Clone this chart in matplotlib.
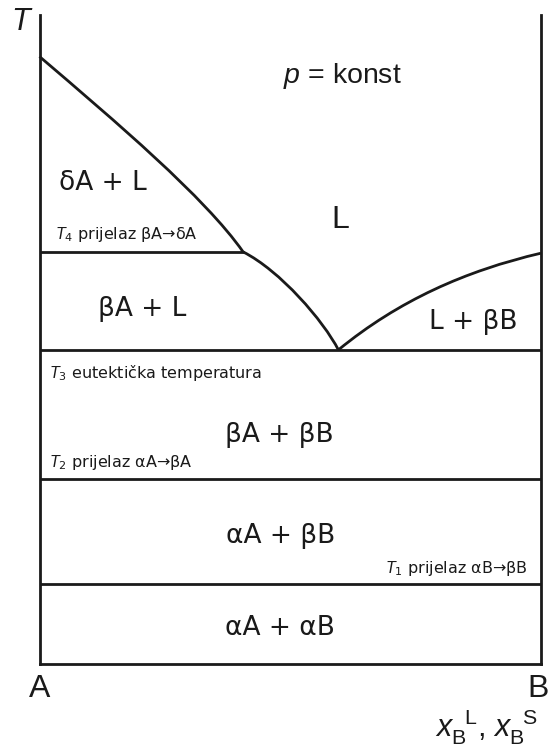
import matplotlib
matplotlib.use('Agg')
import matplotlib.pyplot as plt
from matplotlib.path import Path
from matplotlib.patches import PathPatch

plt.rcParams['font.family'] = ['Liberation Sans', 'DejaVu Sans']
plt.rcParams['mathtext.fontset'] = 'custom'
plt.rcParams['mathtext.rm'] = 'Liberation Sans'
plt.rcParams['mathtext.it'] = 'Liberation Sans:italic'

# composition x_B (0 = A, 1 = B) and temperature (arbitrary units, 0..100)
# liquidus curves as cubic bezier: start, 2 control points, end
liq_delta_x = [0.0, 0.15, 0.33, 0.406]
liq_delta_T = [93.6, 83.7, 71.9, 63.5]

liq_betaA_x = [0.406, 0.48, 0.566, 0.596]
liq_betaA_T = [63.5, 60.6, 52.9, 48.4]

liq_betaB_x = [0.596, 0.716, 0.85, 1.0]
liq_betaB_T = [48.4, 56.0, 60.6, 63.3]

T4 = 63.5
T3 = 48.4
T2 = 28.5
T1 = 12.3
x_T4_end = 0.406

col = '#1a1a1a'
lw = 2.0

fig = plt.figure(figsize=(5.5, 7.47), dpi=100)
ax = fig.add_axes([39.5 / 550, 83 / 747, 501.5 / 550, 649 / 747])
ax.set_xlim(0, 1)
ax.set_ylim(0, 100)
ax.set_xticks([])
ax.set_yticks([])
ax.spines['top'].set_visible(False)
for s in ['left', 'right', 'bottom']:
    ax.spines[s].set_linewidth(lw)
    ax.spines[s].set_color(col)

codes = [Path.MOVETO, Path.CURVE4, Path.CURVE4, Path.CURVE4]
for xs, ts in [(liq_delta_x, liq_delta_T), (liq_betaA_x, liq_betaA_T), (liq_betaB_x, liq_betaB_T)]:
    p = Path(list(zip(xs, ts)), codes)
    ax.add_patch(PathPatch(p, facecolor='none', edgecolor=col, lw=lw, clip_on=False))

ax.plot([0, x_T4_end], [T4, T4], color=col, lw=lw)
ax.plot([0, 1], [T3, T3], color=col, lw=lw)
ax.plot([0, 1], [T2, T2], color=col, lw=lw)
ax.plot([0, 1], [T1, T1], color=col, lw=lw)

big = 19
small = 11.5
wide = ['DejaVu Sans']

ax.text(-0.037, 98.9, 'T', fontsize=22, style='italic', ha='center', va='center', color=col, clip_on=False)
ax.text(0.486, 89.5, '$p$ = konst', fontsize=20.5, ha='left', va='baseline', color=col)
ax.text(0.599, 67.2, 'L', fontsize=23, ha='center', va='baseline', color=col)

ax.text(0.126, 73.0, 'δA + L', fontsize=big, family=wide, ha='center', va='baseline', color=col)
ax.text(0.031, 65.5, r'$T_\mathregular{4}$ prijelaz βA→δA', fontsize=small, family=wide, ha='left', va='baseline', color=col)
ax.text(0.204, 53.6, 'βA + L', fontsize=big, family=wide, ha='center', va='baseline', color=col)
ax.text(0.865, 51.6, 'L + βB', fontsize=big, family=wide, ha='center', va='baseline', color=col)

ax.text(0.019, 44.1, r'$T_\mathregular{3}$ eutektička temperatura', fontsize=small, family=wide, ha='left', va='baseline', color=col)
ax.text(0.478, 34.2, 'βA + βB', fontsize=big, family=wide, ha='center', va='baseline', color=col)
ax.text(0.019, 30.4, r'$T_\mathregular{2}$ prijelaz αA→βA', fontsize=small, family=wide, ha='left', va='baseline', color=col)

ax.text(0.48, 18.6, 'αA + βB', fontsize=big, family=wide, ha='center', va='baseline', color=col)
ax.text(0.974, 14.0, r'$T_\mathregular{1}$ prijelaz αB→βB', fontsize=small, family=wide, ha='right', va='baseline', color=col)
ax.text(0.48, 4.5, 'αA + αB', fontsize=big, family=wide, ha='center', va='baseline', color=col)

ax.text(0.0, -5.1, 'A', fontsize=23, ha='center', va='baseline', color=col, clip_on=False)
ax.text(0.995, -5.1, 'B', fontsize=23, ha='center', va='baseline', color=col, clip_on=False)
ax.text(0.789, -11.2, r'$x_\mathregular{B}^{\ \ \mathregular{L}}$, $x_\mathregular{B}^{\ \ \mathregular{S}}$',
        fontsize=22, ha='left', va='baseline', color=col, clip_on=False)

fig.savefig('out.png', dpi=100)
